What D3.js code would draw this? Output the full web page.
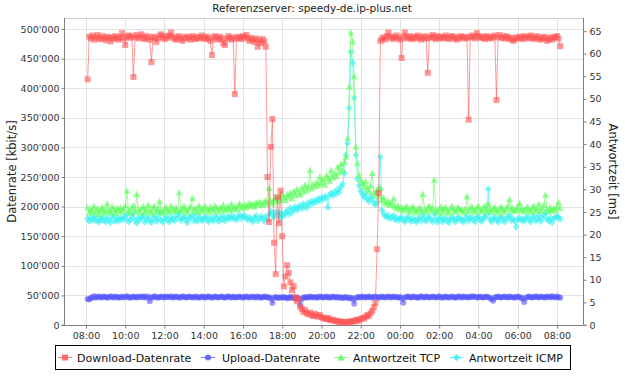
<!DOCTYPE html>
<html><head><meta charset="utf-8">
<script src="https://cdn.jsdelivr.net/npm/d3@7"></script>
<style>body{margin:0;background:#fff;overflow:hidden} text{font-family:"DejaVu Sans",sans-serif}</style>
</head><body><svg id="c" width="625" height="388"></svg>
<script>
const chartTitle = "Referenzserver: speedy-de.ip-plus.net";
const leftLabel = "Datenrate [kbit/s]";
const rightLabel = "Antwortzeit [ms]";
const seriesNames = ["Download-Datenrate","Upload-Datenrate","Antwortzeit TCP","Antwortzeit ICMP"];
const startTime = "2010-01-01T08:05:00";
const stepMinutes = 5;
const download = [
415000,487000,484000,489000,482000,486000,490000,483000,485000,488000,
484000,481000,487000,485000,479000,486000,483000,488000,485000,482000,
486000,493000,484000,473000,487000,489000,485000,488000,419000,486000,
490000,484000,487000,491000,485000,483000,488000,486000,482000,444000,
487000,485000,478000,484000,489000,491000,486000,483000,488000,485000,
489000,494000,487000,484000,482000,486000,488000,483000,480000,485000,
487000,484000,486000,482000,488000,485000,483000,487000,484000,486000,
489000,485000,483000,487000,484000,480000,456000,486000,488000,482000,
485000,487000,483000,476000,473000,484000,488000,485000,482000,486000,
390000,484000,487000,485000,483000,488000,486000,490000,484000,480000,
485000,482000,478000,484000,470000,481000,476000,483000,479000,470000,
250000,174000,301000,348000,139000,86000,216000,172000,227000,150000,
65000,82000,101000,88000,72000,59000,66000,47000,40000,44000,31000,27000,
22000,25000,20000,18000,21000,17000,15000,19000,16000,14000,
17000,13000,12000,11000,10000,12000,9000,8000,9000,7000,
6000,7000,5000,6000,5000,4000,5000,4000,6000,5000,
7000,6000,8000,9000,7000,10000,12000,11000,14000,17000,
15000,20000,24000,30000,
37000,128000,223000,480000,
484000,486000,482000,488000,494000,485000,487000,483000,486000,489000,
485000,482000,451000,487000,494000,484000,486000,488000,483000,485000,
487000,484000,489000,486000,482000,485000,488000,484000,426000,487000,
485000,490000,486000,483000,488000,485000,487000,484000,486000,489000,
485000,483000,487000,488000,484000,486000,482000,485000,488000,486000,
484000,487000,485000,347000,486000,489000,487000,484000,493000,488000,
486000,485000,487000,483000,488000,485000,486000,484000,487000,489000,
380000,486000,490000,485000,487000,484000,488000,486000,483000,485000,
480000,482000,486000,484000,487000,485000,483000,488000,486000,484000,
487000,489000,485000,483000,486000,488000,484000,482000,485000,487000,
484000,480000,483000,486000,482000,485000,487000,488000,484000,471000];
const upload = [
44000,43000,45500,47000,48500,46000,47500,48000,46500,47000,
48000,47500,46000,47000,48500,47000,46500,48000,47500,46000,
47000,48000,46500,47500,48500,47000,46000,47500,48000,47000,
46500,48000,47500,47000,48500,46500,47000,48000,40000,46000,
47500,48500,47000,46000,47500,48000,47000,46500,48000,47500,
47000,48500,46500,47000,48000,47500,46000,47000,48500,47500,
46500,47000,48000,47500,46500,47000,48000,47000,46000,47500,
48000,47000,46500,47500,48500,47000,46000,47500,48000,47000,
46500,47500,48000,47000,46000,47500,48500,47000,46500,48000,
47000,46500,47500,48000,47000,46000,47500,48000,47000,46500,
47500,48000,47000,46500,48000,47500,46000,47000,48000,47500,
46500,47000,45000,37000,46000,47500,46500,45500,47000,46000,
47500,46500,45000,46000,47500,46000,45500,44500,46000,45000,
34000,44000,46500,47500,46000,47000,48000,46500,47000,47500,
46000,47000,48000,47500,46500,47000,48000,47000,46000,47500,
48000,47000,46500,47500,46000,47000,45500,46500,47500,46000,
45000,46500,44000,36000,45500,47000,47500,46500,48000,47000,
46500,47500,48000,47000,46500,47500,48000,47000,46000,47500,
48000,47000,46500,47500,48000,47000,46500,48000,47500,47000,
46500,47500,45000,37700,46500,47500,48000,47000,46500,48000,
47500,47000,46000,47500,48500,47000,46500,48000,47500,46500,
47000,48000,47500,46500,47000,48500,47000,46000,47500,48000,
47000,46500,47500,48000,47000,46000,47500,48500,47000,46500,
48000,47500,47000,46500,48000,47000,48500,47500,46500,47000,
48000,47000,46500,47500,48000,47000,46000,44000,41000,46500,
47500,48000,47000,46500,47500,48000,47000,46500,48000,47500,
47000,46000,47500,48000,47000,46500,44500,39000,46000,47500,
48000,47000,46500,47500,48500,47000,46500,48000,47500,47000,
46500,48000,47500,47000,48500,47500,46500,48000,47000,46000];
const tcp = [
26.0,24.8,25.6,25.2,26.3,25.0,25.8,24.6,25.5,26.1,
25.3,24.9,26.9,25.4,25.0,26.2,25.6,24.7,25.8,25.2,
26.0,25.1,25.7,26.4,29.7,25.3,24.8,25.9,26.5,25.2,
29.0,25.6,24.9,25.8,26.2,25.0,25.5,26.6,25.3,24.7,
25.9,26.3,25.1,25.6,27.4,25.2,24.8,25.7,26.1,25.4,
25.0,26.4,25.6,25.2,26.0,25.5,29.3,25.1,25.8,26.3,
25.4,24.9,25.7,26.2,28.1,25.3,25.9,25.0,26.5,25.6,
25.2,25.8,26.3,25.5,25.0,26.1,25.7,25.3,26.4,25.8,
25.1,26.0,25.6,26.6,25.3,25.9,26.2,25.5,26.8,25.7,
26.1,25.6,26.4,26.9,25.8,26.3,26.7,26.0,26.5,27.0,
26.4,26.8,26.2,27.1,26.6,27.3,26.9,26.5,27.2,27.6,
26.8,30.3,27.4,26.9,27.8,28.1,27.3,28.6,27.7,29.0,
28.2,27.6,28.9,28.4,29.3,28.0,29.6,28.7,30.1,29.2,
28.8,30.4,29.5,31.0,29.8,30.6,34.3,30.2,31.2,30.7,
31.6,30.9,32.8,31.4,32.2,31.0,33.1,32.5,31.8,34.3,
32.6,33.5,32.9,35.0,33.8,35.6,34.2,36.1,37.2,41.4,
52.7,64.7,62.7,55.0,39.4,35.8,33.2,32.0,31.4,30.6,
31.8,30.2,29.6,30.8,33.6,29.4,28.8,29.9,28.5,30.4,
27.6,28.2,27.1,26.8,27.4,26.5,26.9,28.0,26.2,25.8,
26.4,25.6,26.1,25.3,25.9,26.3,25.5,25.0,25.8,26.2,
25.4,24.9,25.7,26.0,25.2,29.0,25.6,25.1,25.9,26.4,
25.3,25.8,32.1,25.5,24.9,25.7,26.2,25.0,25.6,26.1,
25.2,24.8,25.9,26.3,25.4,25.0,25.8,26.0,25.3,25.6,
24.9,25.7,28.5,25.2,25.8,26.2,25.4,25.0,25.9,26.3,
25.5,25.1,25.8,26.4,25.3,26.9,25.6,25.0,25.7,26.1,
25.4,24.9,25.8,26.2,25.5,25.0,25.7,26.3,27.8,25.4,
25.9,25.2,25.6,26.0,27.0,25.3,25.8,25.1,25.7,26.2,
25.5,25.0,25.9,26.4,25.3,25.7,26.8,25.2,25.8,26.5,
28.8,25.6,25.1,26.0,25.4,25.9,25.3,26.2,27.2,25.8];
const icmp = [
23.5,22.9,23.8,23.2,24.1,23.0,23.6,22.7,23.4,24.0,
23.1,22.8,23.7,23.3,22.6,24.2,23.5,22.9,23.8,23.0,
23.6,23.2,24.0,23.4,24.5,22.8,23.3,23.9,24.6,23.1,
22.5,23.7,23.2,23.8,24.3,22.7,23.4,23.9,23.0,22.6,
23.5,24.1,22.9,23.6,24.8,23.1,22.7,23.5,24.0,23.3,
22.8,23.9,23.4,23.0,24.2,23.6,24.7,23.1,23.7,24.0,
23.2,22.6,23.5,23.9,24.4,23.0,23.7,22.9,24.1,23.4,
23.0,23.6,24.0,23.3,22.8,23.8,23.4,23.0,24.2,23.6,
22.9,23.7,23.3,24.1,23.0,23.6,24.0,23.4,24.3,23.5,
23.8,23.2,23.9,24.4,23.5,24.0,24.3,23.6,23.2,23.9,
23.4,22.8,23.7,24.2,23.0,23.5,24.1,23.6,22.9,24.0,
23.3,24.5,25.2,24.4,23.8,25.0,24.3,24.9,23.7,24.6,
24.1,24.8,25.3,24.5,25.9,24.9,25.6,26.2,25.4,26.0,
26.5,25.7,26.8,26.3,25.9,27.1,26.6,27.4,26.9,27.6,
27.2,28.0,27.5,28.2,27.8,28.5,28.1,26.0,28.8,29.2,
28.6,29.5,29.0,30.1,29.4,30.6,31.2,33.5,37.6,40.2,
48.0,60.5,58.0,50.2,37.6,32.3,30.8,29.6,28.9,28.2,
29.1,27.8,27.3,28.4,27.9,27.0,26.5,27.2,30.0,37.2,
25.4,24.6,24.1,23.8,24.3,23.5,23.9,24.2,23.3,23.7,
23.1,23.6,23.9,23.2,22.8,23.5,24.0,23.3,22.9,23.6,
23.2,22.7,23.4,23.8,23.0,24.4,23.5,22.9,23.6,24.0,
23.3,22.8,24.6,23.4,22.7,23.5,23.9,22.8,23.4,23.7,
23.0,22.6,23.5,23.9,23.2,22.8,23.6,23.8,23.1,23.4,
22.7,23.5,24.2,23.0,23.6,23.9,23.2,22.8,23.7,24.0,
23.3,22.9,23.6,23.9,24.4,30.1,23.4,22.8,23.5,23.9,
23.2,22.7,23.6,24.0,23.3,22.8,23.5,23.9,24.3,23.1,
23.6,23.0,21.7,23.4,23.8,23.1,23.5,22.9,23.6,24.0,
23.3,22.8,23.7,24.1,23.0,23.5,24.2,22.9,23.6,24.3,
24.8,23.4,23.0,23.7,22.6,23.5,23.9,24.0,23.8,23.4];
const leftTicks = [0,50000,100000,150000,200000,250000,300000,350000,400000,450000,500000];
const rightTicks = [0,5,10,15,20,25,30,35,40,45,50,55,60,65];
const timeTicks = ["2010-01-01T08:00","2010-01-01T10:00","2010-01-01T12:00","2010-01-01T14:00","2010-01-01T16:00","2010-01-01T18:00","2010-01-01T20:00","2010-01-01T22:00","2010-01-02T00:00","2010-01-02T02:00","2010-01-02T04:00","2010-01-02T06:00","2010-01-02T08:00"];
const colors = ["#ff5555","#5555ff","#55ff55","#33f0f0"];

const svg = d3.select("#c");
const L = 64, R = 583, T = 18, B = 325;
const t0 = new Date(startTime).getTime();
const times = download.map((_, i) => new Date(t0 + i * stepMinutes * 60000));
const x = d3.scaleTime().domain([new Date("2010-01-01T06:52:42"), new Date("2010-01-02T09:19:42")]).range([L, R]);
const yL = d3.scaleLinear().domain([0, 518600]).range([B, T]);
const yR = d3.scaleLinear().domain([0, 67.9]).range([B, T]);
const loc = d3.formatLocale({decimal: ".", thousands: "'", grouping: [3], currency: ["", ""]});
const fmt = loc.format(",d");
const tt = timeTicks.map(s => new Date(s));

// grid
const grid = svg.append("g").attr("stroke", "#e2e2e2").attr("stroke-width", 1);
tt.forEach(d => grid.append("line").attr("x1", Math.round(x(d)) + 0.5).attr("x2", Math.round(x(d)) + 0.5).attr("y1", T).attr("y2", B));
leftTicks.forEach(d => grid.append("line").attr("x1", L).attr("x2", R).attr("y1", Math.round(yL(d)) + 0.5).attr("y2", Math.round(yL(d)) + 0.5));
svg.append("line").attr("x1", L).attr("x2", R).attr("y1", T + 0.5).attr("y2", T + 0.5).attr("stroke", "#d0d0d0");

// axes
const axisColor = "#808080";
const gl = svg.append("g").attr("transform", `translate(${L + 0.5},0)`).call(d3.axisLeft(yL).tickValues(leftTicks).tickFormat(fmt).tickSize(3).tickPadding(2));
const gr = svg.append("g").attr("transform", `translate(${R + 0.5},0)`).call(d3.axisRight(yR).tickValues(rightTicks).tickSize(3).tickPadding(3));
const gx = svg.append("g").attr("transform", `translate(0,${B + 0.5})`).call(d3.axisBottom(x).tickValues(tt).tickFormat(d3.timeFormat("%H:%M")).tickSize(3).tickPadding(4));
[gl, gr, gx].forEach(g => {
  g.select(".domain").attr("stroke", axisColor);
  g.selectAll(".tick line").attr("stroke", axisColor);
  g.selectAll(".tick text").attr("fill", "#333").style("font-size", "9.5px").style("font-family", "DejaVu Sans");
});
gl.select(".domain").attr("d", `M-3,${B}H0V${T}`);
gr.select(".domain").attr("d", `M3,${B}H0V${T}`);
gx.select(".domain").attr("d", `M${L},0H${R}`);

// labels
svg.append("text").attr("x", 312).attr("y", 12).attr("text-anchor", "middle").style("font-size", "10.5px").attr("fill", "#222").text(chartTitle);
svg.append("text").attr("transform", `translate(16,${(T + B) / 2}) rotate(-90)`).attr("text-anchor", "middle").style("font-size", "11.5px").attr("fill", "#222").text(leftLabel);
svg.append("text").attr("transform", `translate(609,${(T + B) / 2}) rotate(90)`).attr("text-anchor", "middle").style("font-size", "11.5px").attr("fill", "#222").text(rightLabel);

// series
const shapes = ["M-3,-3h6v6h-6z", "M3,0A3,3 0 1,1 -3,0A3,3 0 1,1 3,0Z", "M0,-3.5L3.5,3L-3.5,3Z", "M0,-3.5L3.5,0L0,3.5L-3.5,0Z"];
const series = [
  {vals: download, y: yL},
  {vals: upload, y: yL},
  {vals: tcp, y: yR},
  {vals: icmp, y: yR}
];
// draw order: ICMP, TCP, Upload, Download (first series on top)
[3, 2, 1, 0].forEach(k => {
  const s = series[k];
  const pts = s.vals.map((v, i) => [x(times[i]), s.y(v)]);
  svg.append("path").attr("d", d3.line()(pts)).attr("fill", "none").attr("stroke", colors[k]).attr("stroke-opacity", 0.6).attr("stroke-width", 1);
  svg.append("g").selectAll("path").data(pts).join("path")
    .attr("d", shapes[k]).attr("transform", d => `translate(${d[0]},${d[1]})`)
    .attr("fill", colors[k]).attr("fill-opacity", 0.6);
});

// legend
const lg = svg.append("g");
lg.append("rect").attr("x", 55.5).attr("y", 345.5).attr("width", 515).attr("height", 24).attr("fill", "#fff").attr("stroke", "#000");
const mx = [65, 208, 341, 456.5];
const tx = [77, 222, 353, 469];
seriesNames.forEach((n, k) => {
  lg.append("line").attr("x1", mx[k] - 7).attr("x2", mx[k] + 7).attr("y1", 357.5).attr("y2", 357.5).attr("stroke", colors[k]).attr("stroke-opacity", 0.8);
  lg.append("path").attr("d", shapes[k]).attr("transform", `translate(${mx[k]},357.5)`).attr("fill", colors[k]).attr("fill-opacity", 0.85);
  lg.append("text").attr("x", tx[k]).attr("y", 361.5).style("font-size", "11px").attr("fill", "#111").text(n);
});
</script></body></html>
